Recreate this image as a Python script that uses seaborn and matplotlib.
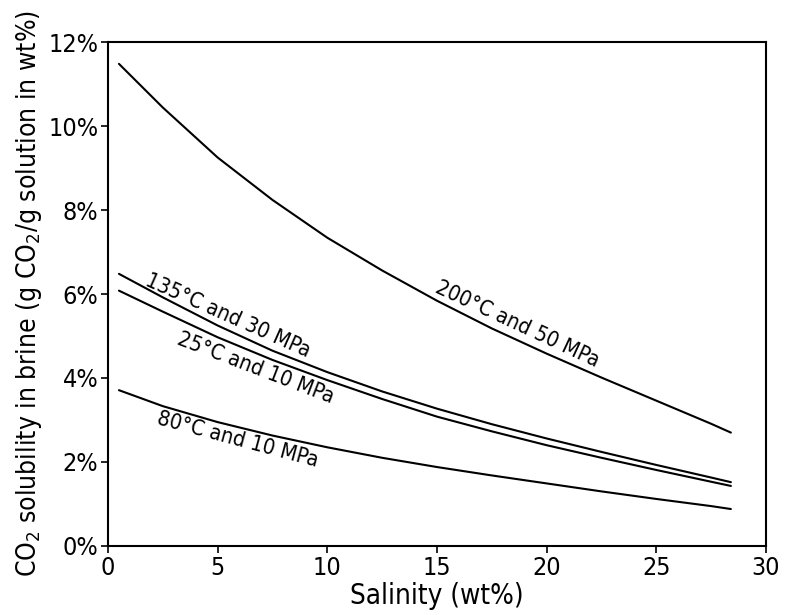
import matplotlib
matplotlib.use("Agg")
import matplotlib.pyplot as plt
import seaborn as sns
import pandas as pd

salinity = [0.5, 2.5, 5, 7.5, 10, 12.5, 15, 17.5, 20, 22.5, 25, 27.5, 28.4]
s200_50 = [11.48, 10.44, 9.25, 8.24, 7.34, 6.56, 5.84, 5.18, 4.58, 4.01, 3.46, 2.91, 2.70]
s135_30 = [6.48, 5.92, 5.25, 4.65, 4.14, 3.68, 3.27, 2.90, 2.56, 2.24, 1.93, 1.63, 1.52]
s25_10 = [6.08, 5.58, 4.97, 4.43, 3.95, 3.50, 3.08, 2.73, 2.40, 2.10, 1.81, 1.53, 1.43]
s80_10 = [3.71, 3.33, 2.95, 2.63, 2.35, 2.10, 1.88, 1.68, 1.49, 1.30, 1.12, 0.95, 0.88]

series = {
    "200°C and 50 MPa": s200_50,
    "135°C and 30 MPa": s135_30,
    "25°C and 10 MPa": s25_10,
    "80°C and 10 MPa": s80_10,
}
yticks = [0, 2, 4, 6, 8, 10, 12]
xticks = [0, 5, 10, 15, 20, 25, 30]

rows = []
for name, vals in series.items():
    for x, y in zip(salinity, vals):
        rows.append({"Salinity": x, "Solubility": y, "Case": name})
df = pd.DataFrame(rows)

sns.set_style("ticks")
plt.rcParams["font.family"] = ["DejaVu Sans"]
plt.rcParams["font.stretch"] = "condensed"
plt.rcParams["mathtext.default"] = "regular"
plt.rcParams["text.color"] = "black"
plt.rcParams["axes.labelcolor"] = "black"

fig = plt.figure(figsize=(7.87, 6.15), dpi=100)
ax = fig.add_axes([0.1372, 0.1122, 0.8361, 0.8195])

sns.lineplot(data=df, x="Salinity", y="Solubility", units="Case", estimator=None,
             color="black", linewidth=1.5, ax=ax, legend=False)

ax.set_xlim(0, 30)
ax.set_ylim(0, 12)
ax.set_xticks(xticks)
ax.set_yticks(yticks)
ax.set_yticklabels([f"{v}%" for v in yticks])
ax.tick_params(labelsize=18, length=5, width=1.2, direction="out", colors="black", pad=2)
for sp in ax.spines.values():
    sp.set_linewidth(1.5)
    sp.set_color("black")

ax.set_xlabel("Salinity (wt%)", fontsize=20, labelpad=2)
ax.set_ylabel("CO$_2$ solubility in brine (g CO$_2$/g solution in wt%)", fontsize=19, labelpad=3)

labels = [
    ("200°C and 50 MPa", 18.65, 5.29, -25),
    ("135°C and 30 MPa", 5.47, 5.47, -24),
    ("25°C and 10 MPa", 6.73, 4.24, -21),
    ("80°C and 10 MPa", 5.93, 2.52, -15),
]
for txt, x, y, rot in labels:
    ax.text(x, y, txt, rotation=rot, rotation_mode="anchor", ha="center", va="center",
            fontsize=15.5, color="black")

fig.savefig("out.png", dpi=100)
